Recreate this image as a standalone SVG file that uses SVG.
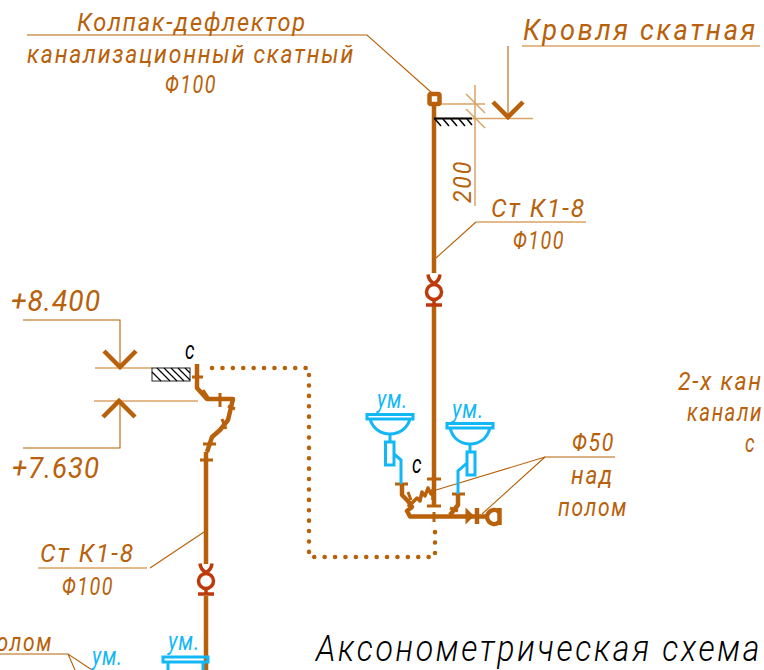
<svg xmlns="http://www.w3.org/2000/svg" width="764" height="670" viewBox="0 0 764 670">
<defs>
<style>
text{font-family:"Roboto","Liberation Sans",sans-serif;font-style:italic;font-weight:400;fill:#b8610a;font-size:26px;letter-spacing:2px}
.c{fill:#12b8f5;font-size:25px;letter-spacing:1px}
.k{fill:#000;font-size:25px}
.p{fill:none;stroke:#b8610a;stroke-width:4.500;stroke-linejoin:round}
.t{fill:none;stroke:#b8610a;stroke-width:3}
.l{fill:none;stroke:#b8610a;stroke-width:1.100}
.d{fill:none;stroke:#dba467;stroke-width:1.500}
.r{fill:none;stroke:#bd3a0a;stroke-width:3.500}
.b{fill:none;stroke:#12b8f5;stroke-width:3}
.h{fill:none;stroke:#000;stroke-width:1.200}
.o{fill:none;stroke:#b8610a;stroke-width:4.500;stroke-linecap:round;stroke-dasharray:0.1 10.3}
.a{fill:none;stroke:#b8610a;stroke-width:4.500}
</style>
<g id="valve"><circle class="r" cx="0" cy="0" r="7.500"/><path class="r" d="M-6 -17.500C-5.500 -13 -3 -10 0 -8.500C3 -10 5.500 -13 6 -17.500M0 7V13"/><path class="r" d="M-8 13H8"/></g>
</defs>
<g id="connectors">
<path class="l" d="M27 35H367L432 93"/>
<path class="l" d="M476 222L436 258"/>
<path class="d" d="M476 222H586M38 568H147"/>
<path class="l" d="M150 568L204 532"/>
<path class="l" d="M436 490L545 457H615M482 514L545 457"/>
<path class="l" d="M0 654H68L92 670M68 654L75 670"/>
<path class="l" d="M508 46V116"/>
<path class="d" d="M522 46H760"/>
<path class="l" d="M23 320H120V367M23 448H120V401"/>
<path class="d" d="M440 104H485M434 118.500H533M475 85V206M466 94L485 113M466 109L485 128"/>
<path class="d" d="M95 368H152M94 401H198"/>
<path class="a" d="M493 102L508 117L523 102M104 351L120 367L136 351M103 417L119 401L135 417"/>
<path class="p" d="M434 104V273M434 305V506M206 452V564M206 596V670"/>
<path class="o" d="M212 368H309V557H435V526"/>
</g>
<g id="roof-cap"><rect x="429.500" y="94" width="10" height="10" rx="1.500" class="p"/>
<path stroke="#000" stroke-width="2" fill="none" d="M434 118.500H472"/>
<path class="h" style="stroke-width:1.500" d="M435 119L441 126M443 119L449 126M451 119L457 126M459 119L465 126M467 119L472 125"/></g>
<use id="valve-top" href="#valve" x="434" y="292"/>
<use id="valve-left" href="#valve" x="206" y="581"/>
<g id="branch-right">
<path class="p" d="M402 484V495L408 501L412 507L407 511L410 516.500H487"/>
<path class="p" d="M458 494V505L450 515"/>
<path class="t" d="M395 484H408M452 494H465M427 479H441M427 506H441M434 512V522M408 492L411 500M450 508L458 511"/>
<path class="p" style="stroke-width:3.500" d="M408 507L417 498L420 501L422 492L425 496L428 488L431 494L433 490L433 500"/>
<path class="t" d="M467 511L472 516L467 521V511Z"/>
<path class="p" d="M477 508V524"/>
<path class="p" d="M498.500 511.500A7 7 0 1 0 498.500 522.500M499.500 508V525"/>
</g>
<g id="stack-left">
<path class="p" d="M197 364V388L207 399H233L228 420L220 430L212 437L207 452"/>
<path class="t" d="M192 377H203M203 390L209 399M220 393V407M228 406L235 409M222 419L226 429M203 444H216M200 460H213"/>
</g>
<g id="wall-hatch"><rect x="152" y="368" width="38" height="13" fill="#fff" stroke="#222" stroke-width="1"/>
<path class="h" d="M152 372L161 381M157 368L170 381M164 368L177 381M171 368L184 381M178 368L190 380M185 368L190 373"/></g>
<g id="basin-1"><path class="b" d="M367 414.500H413V419H367ZM370 419C373 429 381 434 390 434C399 434 407 429 410 419M390 434V442M385.500 442H394V465H385.500ZM394 454L401 460V484"/></g>
<g id="basin-2"><path class="b" d="M447 423.500H493V428H447ZM450 428C453 439 461 444 470 444C479 444 487 439 490 428M470 444V452M467 452H475V475H467ZM467 463L458 471V494"/></g>
<g id="basin-3"><path class="b" d="M163 657H208V662H163ZM168 662V670M203 662V670"/></g>
<g id="labels">
<text x="77" y="31" textLength="230" lengthAdjust="spacingAndGlyphs">Колпак-дефлектор</text>
<text x="27" y="63" textLength="328" lengthAdjust="spacingAndGlyphs">канализационный скатный</text>
<text x="165" y="93" textLength="52" lengthAdjust="spacingAndGlyphs">Φ100</text>
<text x="523" y="40" textLength="235" lengthAdjust="spacingAndGlyphs" style="font-size:30px;letter-spacing:3px">Кровля скатная</text>
<text transform="translate(471 203) rotate(-90)" textLength="43" lengthAdjust="spacingAndGlyphs">200</text>
<text x="491" y="217" textLength="95" lengthAdjust="spacingAndGlyphs">Ст К1-8</text>
<text x="513" y="249" textLength="52" lengthAdjust="spacingAndGlyphs">Φ100</text>
<text x="11" y="311" textLength="90" lengthAdjust="spacingAndGlyphs" style="font-size:30px;letter-spacing:1px">+8.400</text>
<text x="12" y="478" textLength="88" lengthAdjust="spacingAndGlyphs" style="font-size:30px;letter-spacing:1px">+7.630</text>
<text class="k" x="185" y="359" textLength="11" lengthAdjust="spacingAndGlyphs">с</text>
<text class="k" x="412" y="473" textLength="11" lengthAdjust="spacingAndGlyphs">с</text>
<text class="c" x="377" y="408" textLength="31" lengthAdjust="spacingAndGlyphs">ум.</text>
<text class="c" x="452" y="418" textLength="32" lengthAdjust="spacingAndGlyphs">ум.</text>
<text x="572" y="451" textLength="43" lengthAdjust="spacingAndGlyphs">Φ50</text>
<text x="571" y="484" textLength="43" lengthAdjust="spacingAndGlyphs">над</text>
<text x="558" y="516" textLength="70" lengthAdjust="spacingAndGlyphs">полом</text>
<text x="678" y="390" textLength="85" lengthAdjust="spacingAndGlyphs">2-х кан</text>
<text x="687" y="421" textLength="76" lengthAdjust="spacingAndGlyphs">канали</text>
<text x="745" y="452" textLength="11" lengthAdjust="spacingAndGlyphs">с</text>
<text x="40" y="562" textLength="95" lengthAdjust="spacingAndGlyphs">Ст К1-8</text>
<text x="62" y="595" textLength="52" lengthAdjust="spacingAndGlyphs">Φ100</text>
<text x="-17" y="651" textLength="70" lengthAdjust="spacingAndGlyphs">полом</text>
<text class="c" x="92" y="665" textLength="31" lengthAdjust="spacingAndGlyphs">ум.</text>
<text class="c" x="168" y="650" textLength="32" lengthAdjust="spacingAndGlyphs">ум.</text>
<text x="316" y="661" textLength="446" lengthAdjust="spacingAndGlyphs" style="font-size:36px;letter-spacing:3px;fill:#000;font-weight:300">Аксонометрическая схема</text>
</g>
</svg>
